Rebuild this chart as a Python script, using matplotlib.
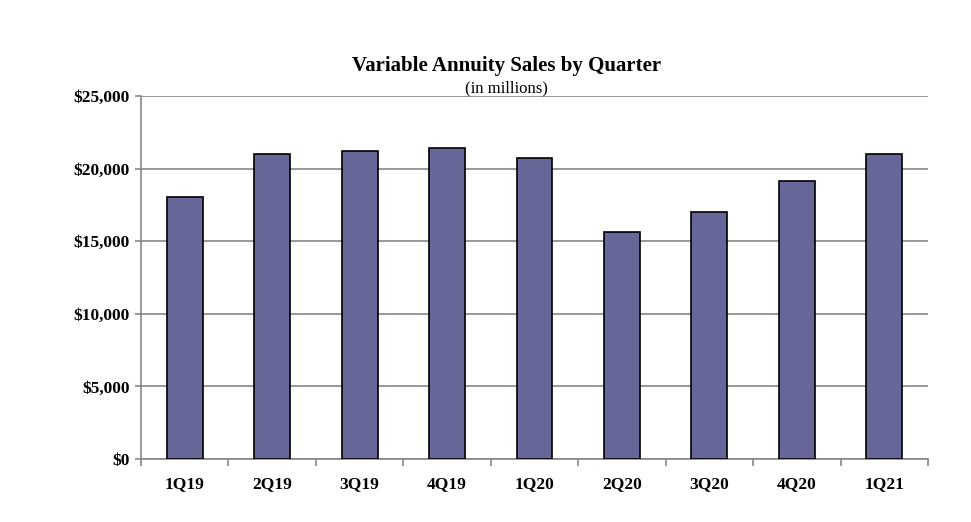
import numpy as np
import matplotlib
matplotlib.use('Agg')
import matplotlib.pyplot as plt

# Variable annuity sales, in millions of dollars
quarters = ['1Q19', '2Q19', '3Q19', '4Q19', '1Q20', '2Q20', '3Q20', '4Q20', '1Q21']
sales = [18040, 21000, 21210, 21420, 20730, 15630, 17010, 19150, 21000]
y_ticks = [0, 5000, 10000, 15000, 20000, 25000]

plt.rcParams['font.family'] = ['Liberation Serif', 'DejaVu Serif']

fig = plt.figure(figsize=(9.71, 5.22), dpi=100)
ax = fig.add_axes([0.1452, 0.1207, 0.8105, 0.6954])

x = np.arange(len(quarters))
ax.bar(x, sales, width=0.41, color='#666699', edgecolor='black', linewidth=1.2, zorder=3)

ax.set_xlim(-0.5, len(quarters) - 0.5)
ax.set_ylim(0, 25000)
ax.set_yticks(y_ticks)
ax.set_yticklabels(['${:,}'.format(v) for v in y_ticks], fontweight='bold', fontsize=12.5)
ax.yaxis.grid(True, color='#888888', linewidth=1.2, zorder=0)

# category labels centred, tick marks between categories
ax.set_xticks(x)
ax.set_xticklabels(quarters, fontweight='bold', fontsize=12.5)
ax.tick_params(axis='x', length=0, pad=12)
ax.set_xticks(np.arange(-0.5, len(quarters)), minor=True)
ax.tick_params(axis='x', which='minor', length=5, color='#888888', width=1.2)
ax.tick_params(axis='y', length=4, color='#888888', width=1.2, pad=4)

for side in ['top', 'right']:
    ax.spines[side].set_visible(False)
for side in ['left', 'bottom']:
    ax.spines[side].set_color('#888888')
    ax.spines[side].set_linewidth(1.2)

fig.text(0.5215, 0.873, 'Variable Annuity Sales by Quarter', ha='center', va='center',
         fontsize=15, fontweight='bold')
fig.text(0.5215, 0.830, '(in millions)', ha='center', va='center', fontsize=12)

fig.savefig('out.png', dpi=100)
